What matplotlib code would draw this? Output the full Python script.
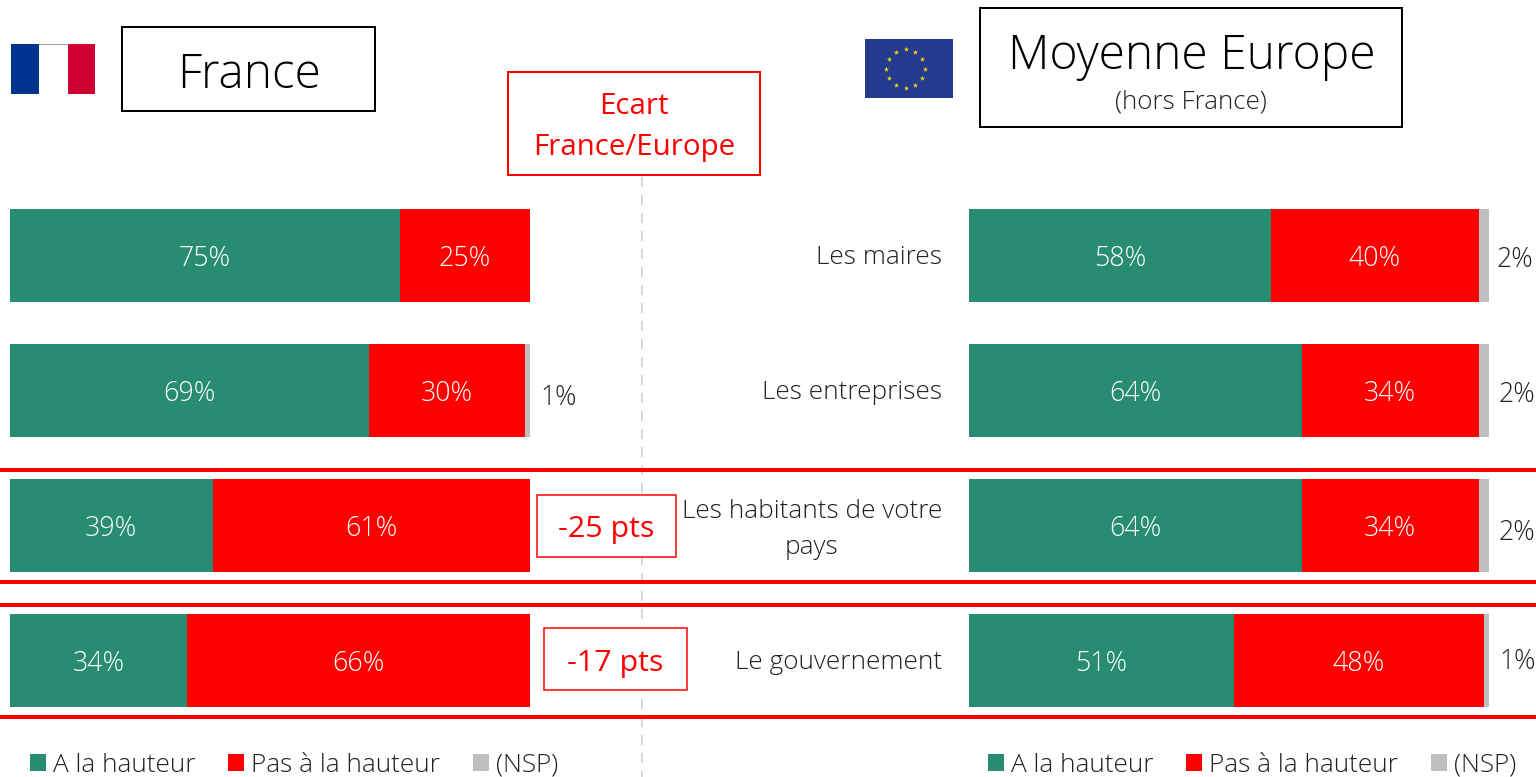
import numpy as np
import matplotlib
matplotlib.use("Agg")
import matplotlib.pyplot as plt
from matplotlib.patches import Rectangle
from matplotlib.transforms import ScaledTranslation

categories = ["Les maires", "Les entreprises", "Les habitants de votre\npays", "Le gouvernement"]
france_oui = [75, 69, 39, 34]
france_non = [25, 30, 61, 66]
france_nsp = [0, 1, 0, 0]
europe_oui = [58, 64, 64, 51]
europe_non = [40, 34, 34, 48]
europe_nsp = [2, 2, 2, 1]
series_names = ["A la hauteur", "Pas à la hauteur", "(NSP)"]
ecarts = ["-25 pts", "-17 pts"]

GREEN, RED, GREY = "#288C73", "#FF0000", "#BFBFBF"
INK = "#222222"
W, H = 1536, 777
PX = 0.72  # points per pixel at dpi=100

plt.rcParams["font.family"] = ["Open Sans", "DejaVu Sans"]
plt.rcParams["font.weight"] = "light"

fig = plt.figure(figsize=(W / 100, H / 100), dpi=100)

ov = fig.add_axes([0, 0, 1, 1], zorder=3)
ov.set_xlim(0, W); ov.set_ylim(H, 0); ov.axis("off"); ov.patch.set_alpha(0)

def make_axes(x0, x1):
    top, bottom = 188, 728.5
    ax = fig.add_axes([x0 / W, 1 - bottom / H, (x1 - x0) / W, (bottom - top) / H], zorder=2)
    ax.set_xlim(0, 100)
    ax.set_ylim(3.5, -0.5)
    ax.patch.set_alpha(0)
    for s in ax.spines.values():
        s.set_visible(False)
    ax.set_xticks([])
    return ax

def draw(ax, a, b, c, nudges):
    y = np.arange(len(a))
    a, b, c = map(np.array, (a, b, c))
    h = 93 / 135
    ax.barh(y, a, h, color=GREEN, label=series_names[0], linewidth=0)
    ax.barh(y, b, h, left=a, color=RED, label=series_names[1], linewidth=0)
    ax.barh(y, c, h, left=a + b, color=GREY, label=series_names[2], linewidth=0)
    for i in y:
        for val, left in ((a[i], 0), (b[i], a[i])):
            ax.annotate(f"{val}%", (left + val / 2, i), xytext=(0, -3.5 * PX), textcoords="offset points",
                        ha="center", va="center", color="white", fontsize=26.8 * PX)
        if c[i] > 0:
            dx, dy = nudges[i]
            ax.annotate(f"{c[i]}%", (a[i] + b[i] + c[i], i), xytext=(dx * PX, dy * PX),
                        textcoords="offset points", ha="left", va="center", color=INK, fontsize=26.5 * PX)

axL = make_axes(10, 530)
draw(axL, france_oui, france_non, france_nsp, [(9, -4), (10, -7), (9, -4), (9, -4)])
axL.set_yticks([])

axR = make_axes(969, 1489)
draw(axR, europe_oui, europe_non, europe_nsp, [(7, -4), (9, -4), (9, -7), (10, -1)])
axR.set_yticks(np.arange(4))
axR.set_yticklabels(categories, fontsize=26.1 * PX, color=INK, multialignment="center", linespacing=1.55)
axR.tick_params(axis="y", length=0, pad=27 * PX)
for lab, up in zip(axR.get_yticklabels(), (1, 1, 4.5, 1)):
    lab.set_transform(lab.get_transform() + ScaledTranslation(0, up / 100, fig.dpi_scale_trans))

for ax, x0 in ((axL, 30), (axR, 988)):
    hs, ls = ax.get_legend_handles_labels()
    ax.legend(hs, ls, ncol=3, frameon=False, loc="lower left",
              bbox_to_anchor=(x0 / W, 1 - 778 / H), bbox_transform=fig.transFigure,
              borderaxespad=0, borderpad=0, fontsize=26.1 * PX, handlelength=0.62, handleheight=0.62,
              handletextpad=0.27, columnspacing=1.24, labelcolor=INK)

ov.plot([642, 642], [177, H], color="#D9D9D9", lw=2 * PX, ls=(0, (5, 4)), zorder=1)
for y in (470, 582, 604.5, 717):
    ov.plot([0, W], [y, y], color=RED, lw=4 * PX, solid_capstyle="butt", zorder=2)

def box(x0, y0, x1, y1, ec, lw):
    ov.add_patch(Rectangle((x0, y0), x1 - x0, y1 - y0, fc="white", ec=ec, lw=lw * PX, zorder=3))

box(121.5, 27, 375, 111, "black", 2)
ov.text(248.5, 76, "France", ha="center", va="center", fontsize=47.8 * PX, color="black", zorder=4)
box(979.5, 8, 1402, 127, "black", 2)
ov.text(1191.5, 57, "Moyenne Europe", ha="center", va="center", fontsize=48 * PX, color="black", zorder=4)
ov.text(1191, 102, "(hors France)", ha="center", va="center", fontsize=26 * PX, color=INK, zorder=4)
box(507.5, 72, 760, 175, RED, 2)
ov.text(634, 106, "Ecart", ha="center", va="center", fontsize=29.5 * PX, color=RED, zorder=4, fontweight="normal")
ov.text(634, 148, "France/Europe", ha="center", va="center", fontsize=29.5 * PX, color=RED, zorder=4, fontweight="normal")
box(536.5, 494.5, 675.5, 556.5, RED, 1.5)
ov.text(606, 530, ecarts[0], ha="center", va="center", fontsize=30.4 * PX, color=RED, zorder=4, fontweight="normal")
box(543.5, 628, 686.5, 690, RED, 1.5)
ov.text(615, 663, ecarts[1], ha="center", va="center", fontsize=30.4 * PX, color=RED, zorder=4, fontweight="normal")

for x0, c in ((11, "#00338D"), (39, "white"), (67.5, "#CE0032")):
    ov.add_patch(Rectangle((x0, 44), 28.5 if x0 != 67.5 else 27.5, 50, fc=c, ec="none", zorder=3))
ov.plot([39, 67.5], [44, 44], color="#A0A0A0", lw=0.7, zorder=4)
ov.add_patch(Rectangle((865, 39), 88, 59, fc="#233A8F", ec="none", zorder=3))
ang = np.deg2rad(np.arange(0, 360, 30))
ov.scatter(905.5 + 19.5 * np.cos(ang), 68.5 + 19.5 * np.sin(ang), marker="*", s=16, c="#F5D90A", linewidths=0, zorder=4)

fig.savefig("out.png", dpi=100)
